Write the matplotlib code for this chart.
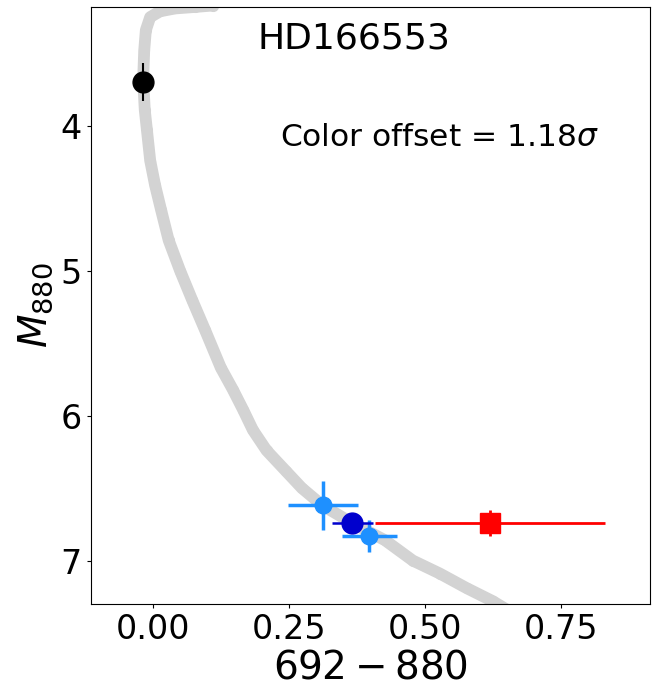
import numpy as np
import matplotlib
matplotlib.use("Agg")
import matplotlib.pyplot as plt

# isochrone track (692-880 colour, absolute 880 magnitude)
iso_color = [0.109, 0.076, 0.040, 0.012, -0.006, -0.014, -0.017, -0.019, -0.016,
             -0.012, -0.006, 0.003, 0.014, 0.028, 0.049, 0.071, 0.095, 0.124,
             0.146, 0.165, 0.183, 0.208, 0.243, 0.273, 0.311, 0.365, 0.426,
             0.477, 0.527, 0.576, 0.624, 0.655]
iso_mag = [3.17, 3.18, 3.19, 3.21, 3.25, 3.34, 3.48, 3.68, 3.89,
           4.03, 4.24, 4.41, 4.58, 4.79, 5.00, 5.20, 5.41, 5.67,
           5.82, 5.96, 6.10, 6.24, 6.38, 6.50, 6.62, 6.74, 6.86,
           7.00, 7.09, 7.19, 7.28, 7.35]

# primary star
prim_color, prim_mag, prim_magerr = -0.02, 3.70, 0.13
# companion estimates
comp_color = [0.312, 0.397]
comp_mag = [6.62, 6.83]
comp_colorerr = [0.064, 0.051]
comp_magerr = [0.17, 0.11]
# combined companion
comb_color, comb_mag, comb_colorerr, comb_magerr = 0.366, 6.74, 0.038, 0.07
# measured companion
meas_color, meas_mag, meas_colorerr, meas_magerr = 0.619, 6.74, 0.211, 0.09

fig = plt.figure(figsize=(6.59, 6.90), dpi=100)
ax = fig.add_axes([0.138, 0.1246, 0.848, 0.8653])

ax.plot(iso_color, iso_mag, "-", color="lightgray", lw=8.5, solid_capstyle="round", zorder=1)
ax.plot(iso_color, iso_mag, "o", color="lightgray", ms=7, zorder=1)

ax.errorbar(prim_color, prim_mag, yerr=prim_magerr, fmt="o", color="black", ms=15, elinewidth=1.5, zorder=3)
ax.errorbar(comp_color, comp_mag, xerr=comp_colorerr, yerr=comp_magerr, fmt="o", color="dodgerblue",
            ms=12, elinewidth=2.5, ls="none", zorder=3)
ax.errorbar(comb_color, comb_mag, xerr=comb_colorerr, yerr=comb_magerr, fmt="o", color="mediumblue",
            ms=15, elinewidth=1.8, zorder=4)
ax.errorbar(meas_color, meas_mag, xerr=meas_colorerr, yerr=meas_magerr, fmt="s", color="red",
            ms=14, elinewidth=2, zorder=4)

ax.set_xlim(-0.115, 0.913)
ax.set_ylim(7.30, 3.18)
ax.set_xticks([0.0, 0.25, 0.5, 0.75])
ax.set_yticks([4, 5, 6, 7])
ax.tick_params(labelsize=24, length=3)
ax.set_xlabel(r"$692-880$", fontsize=28, labelpad=2)
ax.set_ylabel(r"$M_{880}$", fontsize=28, labelpad=4)

ax.text(0.47, 0.948, "HD166553", transform=ax.transAxes, fontsize=26, ha="center", va="center")
ax.text(0.624, 0.781, r"Color offset = 1.18$\sigma$", transform=ax.transAxes, fontsize=22.5,
        ha="center", va="center")

fig.savefig("out.png", dpi=100)
